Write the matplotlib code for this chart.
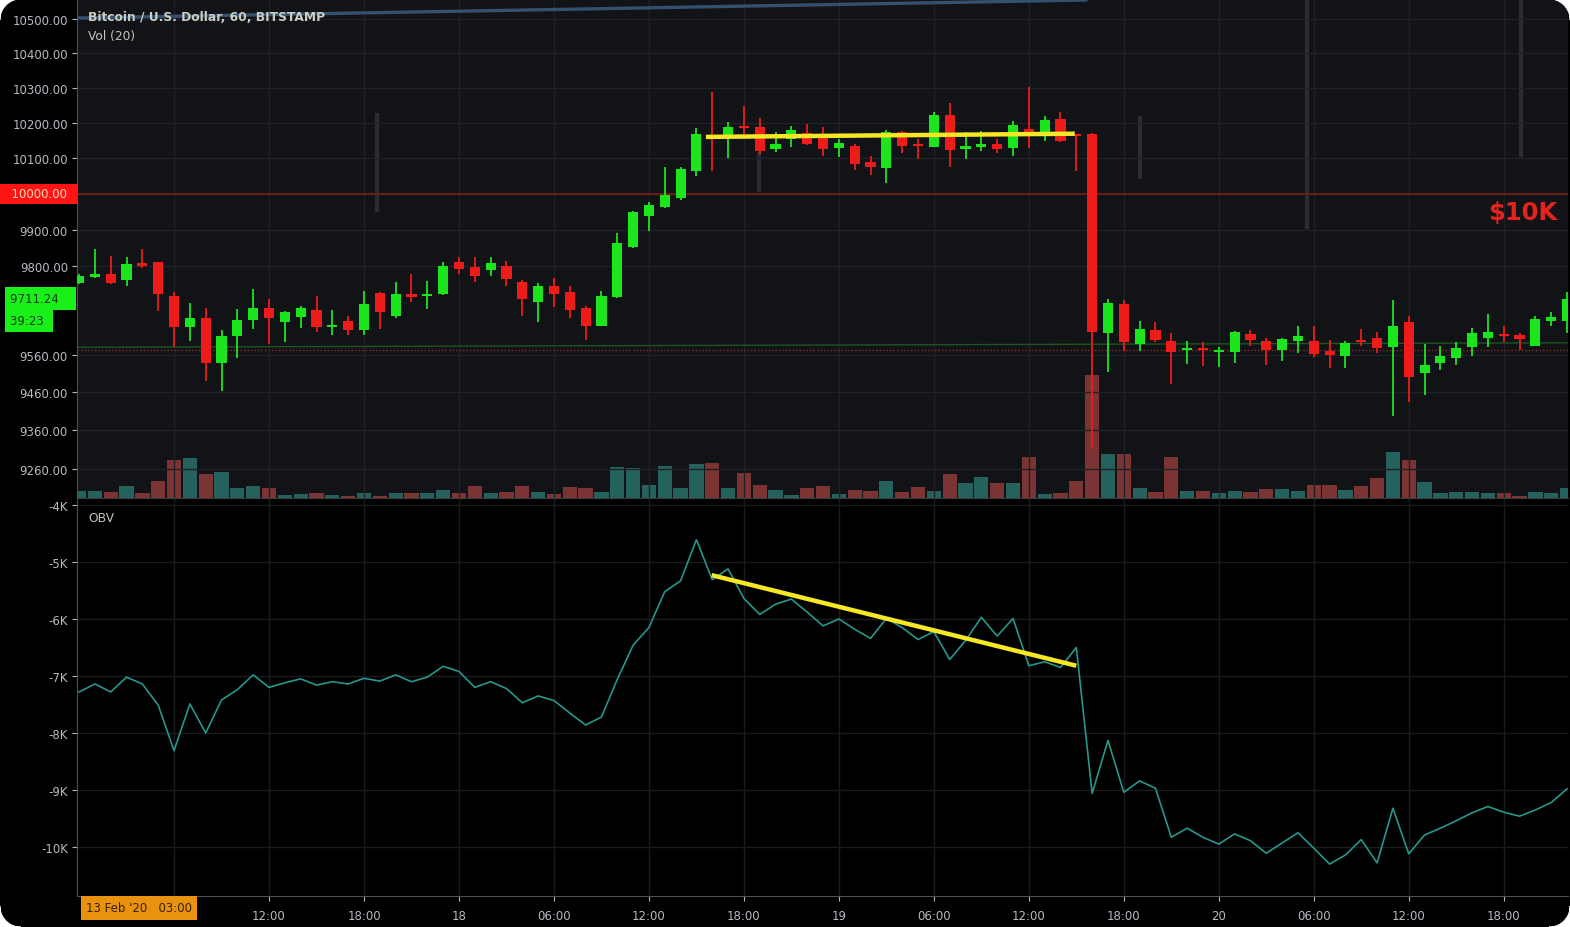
import matplotlib
matplotlib.use("Agg")
import matplotlib.pyplot as plt
import matplotlib.transforms as mtrans
from matplotlib.patches import Polygon
from matplotlib.ticker import FixedLocator, FuncFormatter, NullLocator
import numpy as np

# velas de 1h, BTC/USD Bitstamp (indice 0 = 13 Feb 00:00)
opens = [9754, 9770, 9778, 9762, 9808, 9810, 9719, 9635, 9659, 9538,
         9611, 9654, 9686, 9649, 9662, 9681, 9635, 9651, 9627, 9727,
         9665, 9724, 9719, 9724, 9811, 9797, 9789, 9800, 9757, 9703,
         9746, 9730, 9686, 9638, 9716, 9853, 9938, 9962, 9989, 10063,
         10166, 10157, 10191, 10189, 10126, 10154, 10171, 10169, 10128, 10134,
         10089, 10071, 10174, 10140, 10131, 10223, 10126, 10131, 10140, 10128,
         10183, 10163, 10211, 10166, 10169, 9619, 9697, 9589, 9627, 9597,
         9574, 9577, 9568, 9568, 9616, 9597, 9573, 9597, 9597, 9571,
         9557, 9600, 9605, 9581, 9649, 9511, 9538, 9552, 9581, 9605,
         9616, 9614, 9584, 9651, 9651]
highs = [9778, 9846, 9827, 9824, 9846, 9812, 9730, 9700, 9686, 9627,
         9684, 9738, 9711, 9678, 9692, 9719, 9681, 9665, 9732, 9730,
         9757, 9778, 9760, 9811, 9824, 9824, 9824, 9814, 9762, 9754,
         9768, 9746, 9692, 9732, 9892, 9953, 9978, 10074, 10074, 10186,
         10289, 10203, 10249, 10214, 10174, 10191, 10197, 10189, 10154, 10140,
         10106, 10180, 10177, 10154, 10231, 10257, 10174, 10177, 10154, 10206,
         10303, 10220, 10231, 10169, 10172, 9711, 9708, 9651, 9649, 9619,
         9597, 9595, 9581, 9624, 9627, 9605, 9605, 9638, 9638, 9600,
         9597, 9630, 9622, 9708, 9665, 9589, 9584, 9595, 9632, 9670,
         9638, 9619, 9665, 9676, 9730]
lows = [9752, 9768, 9751, 9746, 9795, 9678, 9581, 9597, 9490, 9465,
        9552, 9630, 9589, 9595, 9632, 9622, 9614, 9614, 9614, 9630,
        9660, 9703, 9684, 9722, 9778, 9757, 9773, 9746, 9665, 9649,
        9689, 9659, 9600, 9636, 9714, 9850, 9897, 9960, 9983, 10049,
        10063, 10100, 10166, 10111, 10117, 10131, 10137, 10106, 10103, 10066,
        10051, 10031, 10114, 10097, 10130, 10074, 10097, 10120, 10114, 10106,
        10128, 10149, 10146, 10063, 9311, 9514, 9571, 9571, 9595, 9481,
        9536, 9530, 9527, 9538, 9584, 9533, 9543, 9565, 9554, 9525,
        9525, 9584, 9565, 9397, 9434, 9452, 9519, 9533, 9557, 9581,
        9595, 9573, 9584, 9638, 9619]
closes = [9773, 9778, 9754, 9805, 9800, 9724, 9635, 9659, 9538, 9611,
          9654, 9686, 9659, 9676, 9686, 9635, 9641, 9627, 9697, 9676,
          9724, 9716, 9724, 9800, 9792, 9773, 9808, 9765, 9711, 9746,
          9724, 9681, 9638, 9719, 9864, 9949, 9968, 9995, 10069, 10169,
          10157, 10189, 10186, 10120, 10140, 10180, 10140, 10126, 10143, 10083,
          10074, 10174, 10134, 10134, 10223, 10123, 10134, 10140, 10126, 10194,
          10169, 10209, 10149, 10163, 9622, 9700, 9595, 9630, 9600, 9568,
          9577, 9574, 9571, 9622, 9600, 9573, 9603, 9611, 9563, 9560,
          9592, 9595, 9578, 9638, 9500, 9533, 9557, 9579, 9619, 9622,
          9611, 9603, 9657, 9662, 9711]
volumes = [147, 147, 126, 252, 105, 357, 798, 840, 504, 546,
           210, 252, 210, 63, 84, 105, 63, 42, 105, 42,
           105, 105, 105, 168, 105, 252, 105, 126, 252, 126,
           84, 231, 210, 126, 651, 630, 273, 672, 210, 714,
           735, 210, 525, 273, 168, 63, 210, 252, 84, 168,
           147, 357, 126, 231, 147, 504, 315, 441, 315, 315,
           861, 84, 105, 357, 2583, 924, 924, 210, 126, 861,
           147, 147, 105, 147, 126, 189, 189, 147, 273, 273,
           168, 252, 420, 966, 798, 336, 105, 126, 126, 105,
           105, 42, 126, 105, 210]
# OBV en miles
obv = [-7.28, -7.14, -7.28, -7.02, -7.14, -7.51, -8.31, -7.49, -8.00, -7.42,
       -7.24, -6.98, -7.20, -7.12, -7.05, -7.16, -7.10, -7.14, -7.04, -7.09,
       -6.98, -7.10, -7.02, -6.83, -6.92, -7.20, -7.10, -7.22, -7.47, -7.35,
       -7.43, -7.65, -7.86, -7.72, -7.06, -6.46, -6.15, -5.52, -5.33, -4.61,
       -5.31, -5.12, -5.64, -5.92, -5.74, -5.65, -5.88, -6.12, -6.00, -6.18,
       -6.34, -5.99, -6.15, -6.36, -6.22, -6.71, -6.38, -5.97, -6.30, -5.99,
       -6.82, -6.75, -6.85, -6.50, -9.06, -8.13, -9.04, -8.84, -8.97, -9.83,
       -9.67, -9.83, -9.95, -9.77, -9.89, -10.11, -9.93, -9.75, -10.02, -10.30,
       -10.14, -9.87, -10.28, -9.32, -10.12, -9.79, -9.67, -9.54, -9.40, -9.29,
       -9.39, -9.46, -9.35, -9.22, -8.98]

price_ticks = [9260, 9360, 9460, 9560, 9800, 9900, 10000, 10100, 10200, 10300, 10400, 10500]
obv_ticks = [-4, -5, -6, -7, -8, -9, -10]
time_ticks = [6, 12, 18, 24, 30, 36, 42, 48, 54, 60, 66, 72, 78, 84, 90]
time_labels = ["", "12:00", "18:00", "18", "06:00", "12:00", "18:00", "19",
               "06:00", "12:00", "18:00", "20", "06:00", "12:00", "18:00"]

# lineas dibujadas a mano en el grafico
res_x = [39.6, 62.9]
res_price = [10160, 10169]
obv_trend_x = [39.96, 63.0]
obv_trend = [-5.23, -6.82]
level_10k = 10000
last_price = 9711.24
ma_x = [0, 94]
ma_price = [9580, 9592]
red_dots = 9574
blue_x = [-0.2, 63.6]
blue_price = [10503, 10556]
ghost_x = [18.8, 42.95, 67.0, 77.6, 91.1]
ghost_lo = [9949, 10006, 10040, 9903, 10103]
ghost_hi = [10228, 10117, 10220, 10600, 10600]

BG = "#121316"
GREEN = "#1de51d"
RED = "#ee1b1b"
VOL_G = "#25625d"
VOL_R = "#7a3434"
TXT = "#b7bac2"
YEL = "#f6e824"

W, H = 1570, 928
fig = plt.figure(figsize=(W / 100, H / 100), dpi=100)
fig.patch.set_facecolor("black")

ax = fig.add_axes([77 / W, 1 - 499 / H, 1491 / W, 499 / H])
axv = ax.twinx()
ax2 = fig.add_axes([77 / W, 1 - 897 / H, 1491 / W, 398 / H], sharex=ax)

ax.set_zorder(3)
ax.patch.set_visible(False)
axv.set_zorder(2)
axv.patch.set_visible(True)
axv.patch.set_facecolor(BG)
ax2.set_facecolor("black")

x = np.arange(len(opens))
o = np.array(opens, dtype=float)
c = np.array(closes, dtype=float)
up = c >= o
cols = np.where(up, GREEN, RED)

# volumen
axv.bar(x, volumes, width=0.9, color=np.where(up, VOL_G, VOL_R), zorder=2)
axv.set_ylim(0, 10480)
axv.set_yticks([])
axv.tick_params(right=False, labelright=False)
for s in axv.spines.values():
    s.set_visible(False)

# velas
ax.set_yscale("log")
ax.vlines(x, lows, highs, colors=cols, lw=1.3, zorder=4)
ax.bar(x, np.maximum(np.abs(c - o), 5), bottom=np.minimum(o, c), width=0.64,
       color=cols, zorder=5)

ax.axhline(level_10k, color="#7e1d1d", lw=1.2, zorder=2)
ax.axhline(red_dots, color="#8a2b2b", lw=1.0, ls=(0, (1, 1.5)), zorder=2)
ax.plot(ma_x, ma_price, color="#1d551d", lw=1.0, zorder=2)
ax.plot(blue_x, blue_price, color="#34506f", lw=2.4, zorder=3)
ax.vlines(ghost_x, ghost_lo, ghost_hi, colors="#2b2d32", lw=3, zorder=1)
ax.plot(res_x, res_price, color=YEL, lw=3.2, zorder=6, solid_capstyle="butt")

ax.set_xlim(-0.13, 94.06)
ax.set_ylim(9185, 10559)
ax.yaxis.set_major_locator(FixedLocator(price_ticks))
ax.yaxis.set_minor_locator(NullLocator())
# la etiqueta de 10000 va en la caja roja
ax.yaxis.set_major_formatter(FuncFormatter(lambda v, p: "" if v == level_10k else f"{v:.2f}"))
ax.tick_params(axis="y", colors=TXT, labelsize=8.5, length=3.5, width=0.8, pad=3)
ax.tick_params(axis="x", bottom=False, labelbottom=False)
ax.grid(True, color="#1f2127", lw=1)
for k, s in ax.spines.items():
    s.set_visible(k == "left")
ax.spines["left"].set_color("#4d5058")

ax.text(0.0074, 0.964, "Bitcoin / U.S. Dollar, 60, BITSTAMP", transform=ax.transAxes,
        color="#cdcdc4", fontsize=8.8, fontweight="bold", va="center", ha="left", zorder=7)
ax.text(0.0074, 0.926, "Vol (20)", transform=ax.transAxes, color="#c4c4bc",
        fontsize=8.8, va="center", ha="left", zorder=7)
ax.text(0.9698, 0.574, "$10K", transform=ax.transAxes, color="#e4231d",
        fontsize=17.5, fontweight="bold", va="center", ha="center", zorder=7)

# etiquetas del eje de precios
lab = mtrans.blended_transform_factory(ax.transAxes, ax.transData)
ax.text(-0.0255, level_10k, "  10000.00  ", transform=lab, color="#ffd9b8", fontsize=8.5,
        ha="center", va="center", zorder=8, clip_on=False,
        bbox=dict(boxstyle="square,pad=0.28", fc="#ff1414", ec="none"))
ax.text(-0.0448, last_price, "9711.24   ", transform=lab, color="#0e3a0e", fontsize=8.5,
        ha="left", va="center", zorder=9, clip_on=False,
        bbox=dict(boxstyle="square,pad=0.45", fc="#19f019", ec="none"))
ax.text(-0.0448, 9653, "39:23 ", transform=lab, color="#0e3a0e", fontsize=8.5,
        ha="left", va="center", zorder=8, clip_on=False,
        bbox=dict(boxstyle="square,pad=0.45", fc="#19f019", ec="none"))

# OBV
ax2.plot(x, obv, color="#27968c", lw=1.2, zorder=3)
ax2.plot(obv_trend_x, obv_trend, color=YEL, lw=3.2, zorder=4, solid_capstyle="butt")
ax2.set_ylim(-10.86, -3.877)
ax2.yaxis.set_major_locator(FixedLocator(obv_ticks))
ax2.yaxis.set_major_formatter(FuncFormatter(lambda v, p: f"{int(round(v))}K"))
ax2.set_xticks(time_ticks)
ax2.set_xticklabels(time_labels)
ax2.tick_params(axis="both", colors=TXT, labelsize=8.5, length=3.5, width=0.8, pad=3)
ax2.tick_params(axis="x", pad=6)
ax2.grid(True, color="#1a1b1e", lw=1)
ax2.spines["right"].set_visible(False)
for k in ["left", "bottom"]:
    ax2.spines[k].set_color("#4d5058")
ax2.spines["top"].set_color("#3a3d44")
ax2.text(0.0074, 0.952, "OBV", transform=ax2.transAxes, color="#c4c4bc",
         fontsize=8.8, va="center", ha="left")

fig.text(139 / W, 1 - 909 / H, "13 Feb '20   03:00", color="#3a2200", fontsize=8.5,
         ha="center", va="center", zorder=9,
         bbox=dict(boxstyle="square,pad=0.45", fc="#e8920f", ec="none"))

# esquinas redondeadas (mascaras blancas)
r = 21
t = np.linspace(0, np.pi / 2, 20)
for cx, cy, sx, sy in [(0, 0, 1, 1), (W, 0, -1, 1), (0, H, 1, -1), (W, H, -1, -1)]:
    ox, oy = cx + sx * r, cy + sy * r
    arc = [(ox - sx * r * np.cos(a), oy - sy * r * np.sin(a)) for a in t]
    pts = [(cx, cy)] + arc
    pts = [(px / W, py / H) for px, py in pts]
    fig.add_artist(Polygon(pts, closed=True, fc="white", ec="white", lw=0.5,
                           transform=fig.transFigure, zorder=100))

fig.savefig("out.png", dpi=100, facecolor=fig.get_facecolor())
